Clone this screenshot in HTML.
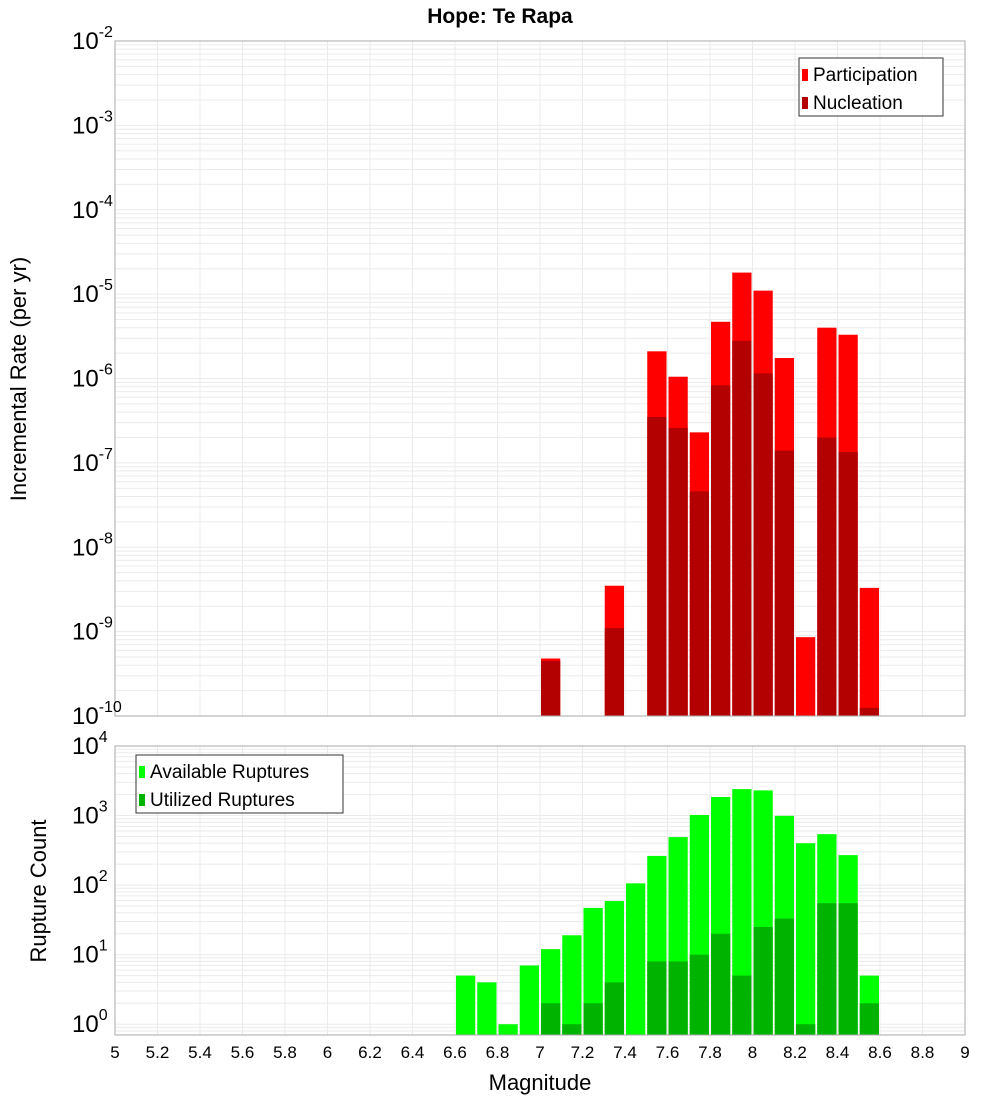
<!DOCTYPE html>
<html><head><meta charset="utf-8"><style>
body{margin:0;background:#fff;}
svg text{font-family:"Liberation Sans","DejaVu Sans",sans-serif;}
</style></head><body>
<svg id="c" width="1000" height="1100" xmlns="http://www.w3.org/2000/svg"></svg>
<script>
const mags = [6.6,6.7,6.8,6.9,7.0,7.1,7.2,7.3,7.4,7.5,7.6,7.7,7.8,7.9,8.0,8.1,8.2,8.3,8.4,8.5];
const participation = [0,0,0,0,4.8e-10,0,0,3.5e-9,0,2.1e-6,1.05e-6,2.3e-7,4.7e-6,1.8e-5,1.1e-5,1.75e-6,8.6e-10,4.0e-6,3.3e-6,3.3e-9];
const nucleation = [0,0,0,0,4.5e-10,0,0,1.1e-9,0,3.5e-7,2.6e-7,4.6e-8,8.3e-7,2.8e-6,1.15e-6,1.4e-7,0,2.0e-7,1.35e-7,1.25e-10];
const available = [5,4,1,7,12,19,47,59,106,263,490,1020,1850,2400,2300,990,400,540,270,5];
const utilized = [0,0,0,0,2,1,2,4,0,8,8,10,20,5,25,33,1,55,55,2];
const xTicks = [5,5.2,5.4,5.6,5.8,6,6.2,6.4,6.6,6.8,7,7.2,7.4,7.6,7.8,8,8.2,8.4,8.6,8.8,9];
const topExp = [-10,-9,-8,-7,-6,-5,-4,-3,-2];
const botExp = [0,1,2,3,4];

const svg=document.getElementById('c');
const NS='http://www.w3.org/2000/svg';
function mk(tag,attrs,parent){const e=document.createElementNS(NS,tag);for(const k in attrs)e.setAttribute(k,attrs[k]);(parent||svg).appendChild(e);return e;}
const L=115,R=965;
const xs=m=>L+(m-5)/4*(R-L);
const T1=41,B1=716,yTop=v=>B1-(Math.log10(v)+10)/8*(B1-T1);
const T2=746,B2=1035,LMIN=Math.log10(0.7);
const yBot=v=>B2-(Math.log10(v)-LMIN)/(4-LMIN)*(B2-T2);

function grid(T,B,ys,minE,maxE){
  const g=mk('g',{});
  
  
  for(let m=5;m<=9.001;m+=0.2){const x=xs(m);mk('line',{x1:x,x2:x,y1:T,y2:B,stroke:'#ebebeb','stroke-width':1},g);}
  for(let e=minE-1;e<=maxE;e++)for(let k=1;k<10;k++){const y=ys(k*Math.pow(10,e));if(y>=T&&y<=B)mk('line',{x1:L,x2:R,y1:y,y2:y,stroke:'#ebebeb','stroke-width':1},g);}
}
grid(T1,B1,yTop,-10,-2);
grid(T2,B2,yBot,0,4);

function bars(vals,color,ys,base,name){
  vals.forEach((v,i)=>{if(!v)return;const x0=xs(mags[i])+1,x1=xs(mags[i]+0.1)-1;const y=ys(v);
    const r=mk('rect',{x:x0,y:y,width:x1-x0,height:base-y,fill:color});
    
    });
}
bars(participation,'#ff0000',yTop,B1,'participation-bar');
bars(nucleation,'#b30000',yTop,B1,'nucleation-bar');
bars(available,'#00ff00',yBot,B2,'available-bar');
bars(utilized,'#00b300',yBot,B2,'utilized-bar');

mk('rect',{x:L,y:T1,width:R-L,height:B1-T1,fill:'none',stroke:'#aaa'});
mk('rect',{x:L,y:T2,width:R-L,height:B2-T2,fill:'none',stroke:'#aaa'});

topExp.forEach(e=>{const y=yTop(Math.pow(10,e));
  const t=mk('text',{x:72,y:y+8,'font-size':24});
  t.innerHTML='10<tspan dy="-12" font-size="16">'+e+'</tspan>';});
botExp.forEach(e=>{const y=yBot(Math.pow(10,e));
  const t=mk('text',{x:72,y:y+8,'font-size':24});
  t.innerHTML='10<tspan dy="-12" font-size="16">'+e+'</tspan>';});
xTicks.forEach(m=>{const t=mk('text',{x:xs(m),y:1058,'font-size':17,'text-anchor':'middle'});
  t.textContent=String(m);});

function txt(s,attrs,name){const t=mk('text',attrs);t.textContent=s;return t;}
txt('Hope: Te Rapa',{x:500,y:23,'font-size':21,'font-weight':'bold','text-anchor':'middle'},'chart-title');
txt('Magnitude',{x:540,y:1090,'font-size':22,'text-anchor':'middle'},'x-axis-title');
txt('Incremental Rate (per yr)',{x:0,y:0,'font-size':22,'text-anchor':'middle',transform:'translate(26,379) rotate(-90)'},'y-axis-title-top');
txt('Rupture Count',{x:0,y:0,'font-size':22,'text-anchor':'middle',transform:'translate(46,891) rotate(-90)'},'y-axis-title-bottom');

function legend(x,y,w,items,name){
  const g=mk('g',{});
  mk('rect',{x:x,y:y,width:w,height:58,fill:'#fff',stroke:'#333'},g);
  items.forEach((it,i)=>{mk('rect',{x:x+3,y:y+11+i*28,width:6,height:12,fill:it[1]},g);
    const t=mk('text',{x:x+14,y:y+23+i*28,'font-size':19},g);t.textContent=it[0];});
}
legend(799,58,144,[['Participation','#ff0000'],['Nucleation','#b30000']],'legend-top');
legend(136,755,207,[['Available Ruptures','#00ff00'],['Utilized Ruptures','#00b300']],'legend-bottom');
</script>
</body></html>
